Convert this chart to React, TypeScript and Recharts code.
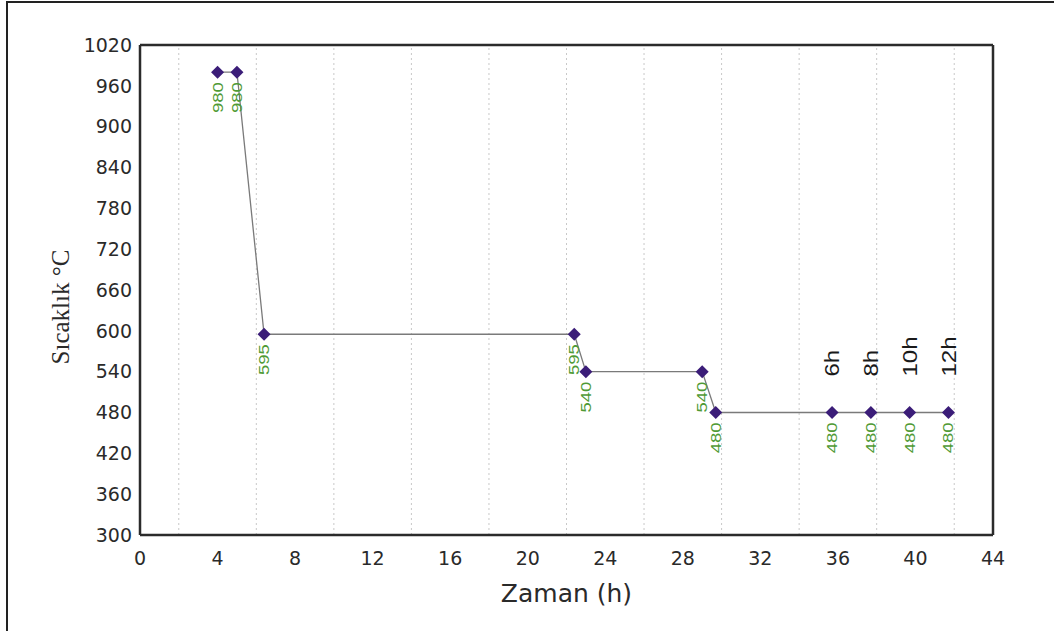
import { LineChart, Line, XAxis, YAxis, ReferenceLine, LabelList } from 'recharts'

// time (h) and furnace temperature (°C) for each step
const times = [4, 5, 6.4, 22.4, 23, 29, 29.7, 35.7, 37.7, 39.7, 41.7]
const temps = [980, 980, 595, 595, 540, 540, 480, 480, 480, 480, 480]
const holdLabels = ['', '', '', '', '', '', '', '6h', '8h', '10h', '12h']

const xTicks = [0, 4, 8, 12, 16, 20, 24, 28, 32, 36, 40, 44]
const yTicks = [300, 360, 420, 480, 540, 600, 660, 720, 780, 840, 900, 960, 1020]
const gridX = [2, 6, 10, 14, 18, 22, 26, 30, 34, 38, 42]

const data = times.map((t, i) => ({ t, temp: temps[i], hold: holdLabels[i] }))

const axisColor = '#2b2b2b'
const tickStyle = { fontSize: 19, fill: '#2a2a2a', fontFamily: 'DejaVu Sans' }

function Diamond(props: any) {
  const { cx, cy } = props
  if (cx == null || cy == null) return null
  const r = 6.5
  return (
    <polygon
      key={`d-${props.index}`}
      points={`${cx},${cy - r} ${cx + r},${cy} ${cx},${cy + r} ${cx - r},${cy}`}
      fill="#3b1d78"
    />
  )
}

function TempLabel(props: any) {
  const { x, y, value } = props
  return (
    <text
      transform={`translate(${x},${y + 10}) rotate(-90) scale(1,0.75)`}
      textAnchor="end"
      dy="0.36em"
      fontSize={18.5}
      fontFamily="Liberation Sans"
      fill="#4f9a35"
    >
      {value}
    </text>
  )
}

function HoldLabel(props: any) {
  const { x, y, value } = props
  if (!value) return null
  return (
    <text
      transform={`translate(${x},${y - 36}) rotate(-90) scale(1,0.82)`}
      textAnchor="start"
      dy="0.36em"
      fontSize={24}
      fontFamily="Liberation Sans"
      fill="#1a1a1a"
    >
      {value}
    </text>
  )
}

export default function App() {
  return (
    <div style={{ position: 'absolute', top: 0, left: 0, width: 1054, height: 631, background: '#fff' }}>
      <div
        style={{
          position: 'absolute',
          top: 1,
          left: 6,
          right: -10,
          bottom: -10,
          borderTop: '2px solid #222',
          borderLeft: '2px solid #222',
        }}
      />
      <LineChart width={1054} height={631} data={data} margin={{ top: 45, right: 61, bottom: 36, left: 0 }}>
        {gridX.map((g) => (
          <ReferenceLine key={g} x={g} stroke="#c8c8c8" strokeDasharray="2 3" strokeWidth={1} />
        ))}
        <ReferenceLine y={1020} stroke={axisColor} strokeWidth={2.5} />
        <ReferenceLine x={44} stroke={axisColor} strokeWidth={2.5} />
        <XAxis
          type="number"
          dataKey="t"
          domain={[0, 44]}
          ticks={xTicks}
          allowDataOverflow
          height={60}
          tickLine={false}
          tickMargin={11}
          axisLine={{ stroke: axisColor, strokeWidth: 2.5 }}
          tick={tickStyle}
          interval={0}
          label={{
            content: (p: any) => {
              const vb = p.viewBox
              return (
                <text
                  x={vb.x + vb.width / 2}
                  y={vb.y + 67}
                  textAnchor="middle"
                  fontSize={25}
                  fontFamily="DejaVu Sans"
                  fill="#2a2a2a"
                >
                  Zaman (h)
                </text>
              )
            },
          }}
        />
        <YAxis
          type="number"
          domain={[300, 1020]}
          ticks={yTicks}
          width={140}
          tickLine={false}
          axisLine={{ stroke: axisColor, strokeWidth: 2.5 }}
          tick={tickStyle}
          interval={0}
          label={{
            content: () => (
              <text
                transform="translate(60,307) rotate(-90)"
                textAnchor="middle"
                dy="0.35em"
                fontSize={25}
                fontFamily="Liberation Serif"
                fill="#2a2a2a"
              >
                Sıcaklık °C
              </text>
            ),
          }}
        />
        <Line
          type="linear"
          dataKey="temp"
          stroke="#7a7a7a"
          strokeWidth={1.3}
          dot={(p: any) => <Diamond key={`dot-${p.index}`} {...p} />}
          activeDot={false}
          isAnimationActive={false}
        >
          <LabelList dataKey="temp" content={(p: any) => <TempLabel {...p} />} />
          <LabelList dataKey="hold" content={(p: any) => <HoldLabel {...p} />} />
        </Line>
      </LineChart>
    </div>
  )
}
